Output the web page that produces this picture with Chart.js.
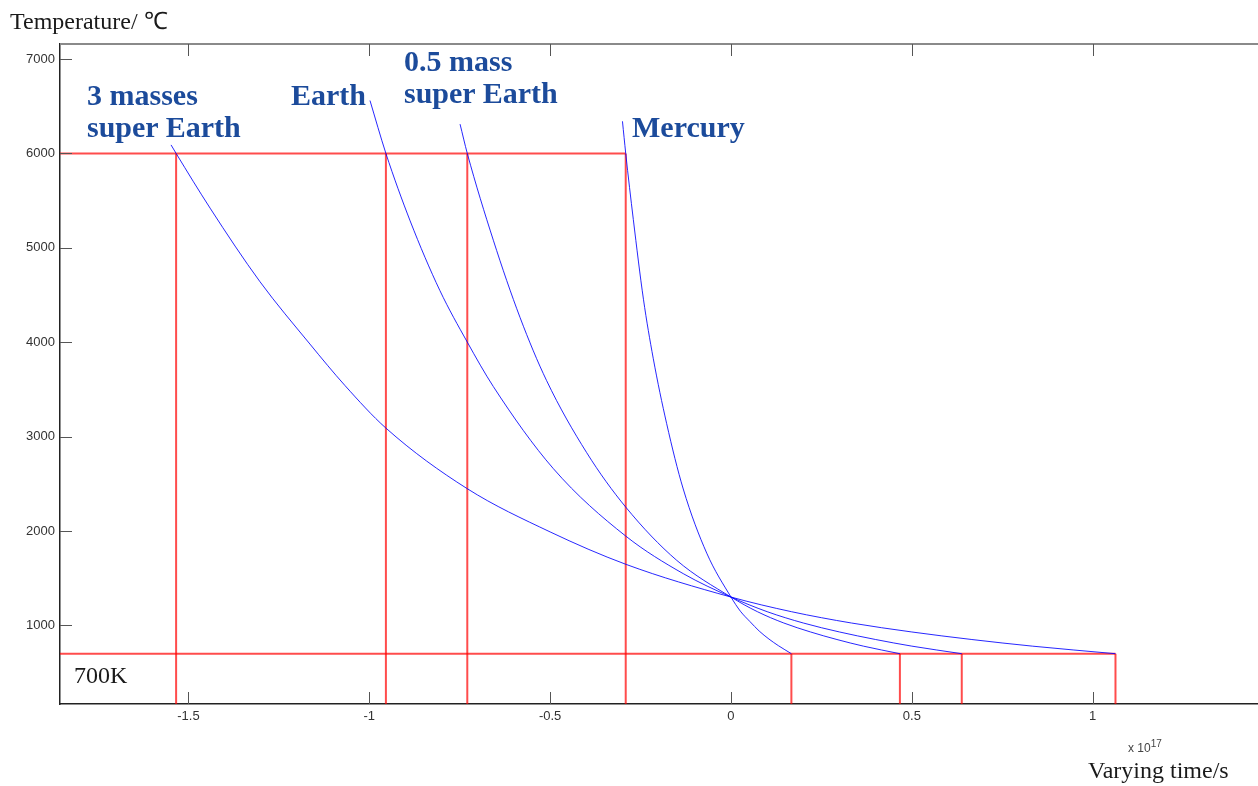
<!DOCTYPE html>
<html>
<head>
<meta charset="utf-8">
<script src="https://cdn.jsdelivr.net/npm/chart.js@4.4.1/dist/chart.umd.min.js"></script>
<style>
  html, body { margin: 0; padding: 0; background: #fff; overflow: hidden; }
  #wrap { position: relative; width: 1258px; height: 786px; }
  #wrap canvas { position: absolute; left: 0; top: 0; }
  .txt { position: absolute; white-space: nowrap; font-family: "Liberation Serif", serif; color: #1a1a1a; line-height: 24px; font-size: 24px; }
  .lab { position: absolute; white-space: nowrap; font-family: "Liberation Serif", serif; font-weight: bold;
         font-size: 30px; line-height: 32px; color: #1c4b9b; }
  .exp { position: absolute; white-space: nowrap; font-family: "Liberation Sans", Arial, sans-serif; color: #444; font-size: 12px; }
</style>
</head>
<body>
<div id="wrap">
  <canvas id="chart" width="1258" height="786"></canvas>
  <div class="txt" style="left:10px;top:9px">Temperature/ ℃</div>
  <div class="txt" style="left:1088px;top:758px">Varying time/s</div>
  <div class="exp" style="left:1128px;top:738px">x 10<sup style="font-size:10px">17</sup></div>
  <div class="txt" style="left:74px;top:663px">700K</div>
  <div class="lab" style="left:87px;top:79px">3 masses<br>super Earth</div>
  <div class="lab" style="left:291px;top:79px">Earth</div>
  <div class="lab" style="left:404px;top:45px">0.5 mass<br>super Earth</div>
  <div class="lab" style="left:632px;top:111px">Mercury</div>
</div>
<script>
// axis ticks (time in units of 1e17 s, temperature in degC)
const xTicks = [-1.5, -1, -0.5, 0, 0.5, 1];
const yTicks = [1000, 2000, 3000, 4000, 5000, 6000, 7000];

// cooling curves
const x3Masses = [-1.548, -1.534, -1.440, -1.302, -1.164, -1.067, -0.954, -0.730, -0.500, -0.290, 0,
                  0.167, 0.333, 0.5, 0.666, 0.833, 1.063];
const t3Masses = [6090, 6000, 5420, 4640, 3980, 3540, 3090, 2450, 1990, 1646, 1300,
                  1145, 1025, 930, 850, 780, 700];

const xEarth = [-0.998, -0.954, -0.887, -0.805, -0.729, -0.657, -0.491, -0.291, -0.132, 0,
                0.1, 0.2, 0.3, 0.4, 0.5, 0.638];
const tEarth = [6560, 6000, 5285, 4549, 4001, 3530, 2660, 1946, 1548, 1300,
                1145, 1025, 930, 850, 780, 700];

const xHalfMass = [-0.749, -0.729, -0.657, -0.583, -0.510, -0.399, -0.291, -0.150, 0,
                   0.073, 0.146, 0.22, 0.293, 0.366, 0.467];
const tHalfMass = [6310, 6000, 5080, 4260, 3595, 2830, 2253, 1689, 1300,
                   1145, 1025, 930, 850, 780, 700];

const xMercury = [-0.300, -0.291, -0.270, -0.242, -0.215, -0.178, -0.132, -0.067, 0,
                  0.026, 0.0525, 0.078, 0.105, 0.131, 0.167];
const tMercury = [6340, 6000, 5300, 4455, 3830, 3140, 2445, 1765, 1300,
                  1150, 1040, 940, 855, 785, 700];

// red guide lines: where each curve crosses 6000 and where it reaches 700
const startTemp = 6000;
const endTemp = 700;
const startX = [-1.534, -0.954, -0.729, -0.291];
const endX = [1.063, 0.638, 0.467, 0.167];

const X_MIN = -1.855, X_MAX = 1.457;
const Y_MIN = 167, Y_MAX = 7159;

const pts = (xs, ys) => xs.map((x, i) => ({ x, y: ys[i] }));

const curveStyle = {
  borderColor: 'rgba(0,0,255,0.85)', borderWidth: 1, pointRadius: 0,
  cubicInterpolationMode: 'monotone', fill: false
};
const redStyle = {
  borderColor: 'rgba(255,0,0,0.7)', borderWidth: 2, pointRadius: 0, tension: 0, fill: false
};

const datasets = [
  { label: '3 masses super Earth', data: pts(x3Masses, t3Masses), ...curveStyle },
  { label: 'Earth', data: pts(xEarth, tEarth), ...curveStyle },
  { label: '0.5 mass super Earth', data: pts(xHalfMass, tHalfMass), ...curveStyle },
  { label: 'Mercury', data: pts(xMercury, tMercury), ...curveStyle },
  { label: '6000', data: [{ x: X_MIN, y: startTemp }, { x: Math.max(...startX), y: startTemp }], ...redStyle },
  { label: '700', data: [{ x: X_MIN, y: endTemp }, { x: Math.max(...endX), y: endTemp }], ...redStyle }
];
startX.forEach(x => datasets.push({ label: 's' + x, data: [{ x, y: startTemp }, { x, y: Y_MIN }], ...redStyle }));
endX.forEach(x => datasets.push({ label: 'e' + x, data: [{ x, y: endTemp }, { x, y: Y_MIN }], ...redStyle }));

// MATLAB-ish frame: grey top edge, ticks pointing inward
const framePlugin = {
  id: 'frame',
  afterDraw(chart) {
    const { ctx, chartArea: a, scales: { x, y } } = chart;
    ctx.save();
    ctx.strokeStyle = '#8a8a8a';
    ctx.lineWidth = 2;
    ctx.beginPath(); ctx.moveTo(a.left, a.top); ctx.lineTo(a.right, a.top); ctx.stroke();
    ctx.strokeStyle = '#555';
    ctx.lineWidth = 1;
    ctx.beginPath();
    x.ticks.forEach(t => {
      const px = Math.round(x.getPixelForValue(t.value)) + 0.5;
      ctx.moveTo(px, a.bottom); ctx.lineTo(px, a.bottom - 12);
      ctx.moveTo(px, a.top); ctx.lineTo(px, a.top + 12);
    });
    y.ticks.forEach(t => {
      const py = Math.round(y.getPixelForValue(t.value)) + 0.5;
      ctx.moveTo(a.left, py); ctx.lineTo(a.left + 12, py);
    });
    ctx.stroke();
    ctx.restore();
  }
};

new Chart(document.getElementById('chart'), {
  type: 'line',
  data: { datasets },
  options: {
    responsive: false,
    animation: false,
    layout: { padding: { top: 44, right: 0, left: 0, bottom: 0 } },
    plugins: { legend: { display: false }, tooltip: { enabled: false } },
    scales: {
      x: {
        type: 'linear', min: X_MIN, max: X_MAX,
        afterBuildTicks: s => { s.ticks = xTicks.map(v => ({ value: v })); },
        afterFit: s => { s.height = 82; },
        ticks: { callback: v => String(v), color: '#333', padding: 5, maxRotation: 0, autoSkip: false,
                 font: { family: 'Liberation Sans, Arial', size: 13 } },
        grid: { display: false, drawTicks: false },
        border: { display: true, color: '#222', width: 1.5 }
      },
      y: {
        min: Y_MIN, max: Y_MAX,
        afterBuildTicks: s => { s.ticks = yTicks.map(v => ({ value: v })); },
        afterFit: s => { s.width = 60; },
        ticks: { callback: v => String(v), color: '#333', padding: 5,
                 font: { family: 'Liberation Sans, Arial', size: 13 } },
        grid: { display: false, drawTicks: false },
        border: { display: true, color: '#222', width: 1.5 }
      }
    }
  },
  plugins: [framePlugin]
});
</script>
</body>
</html>
